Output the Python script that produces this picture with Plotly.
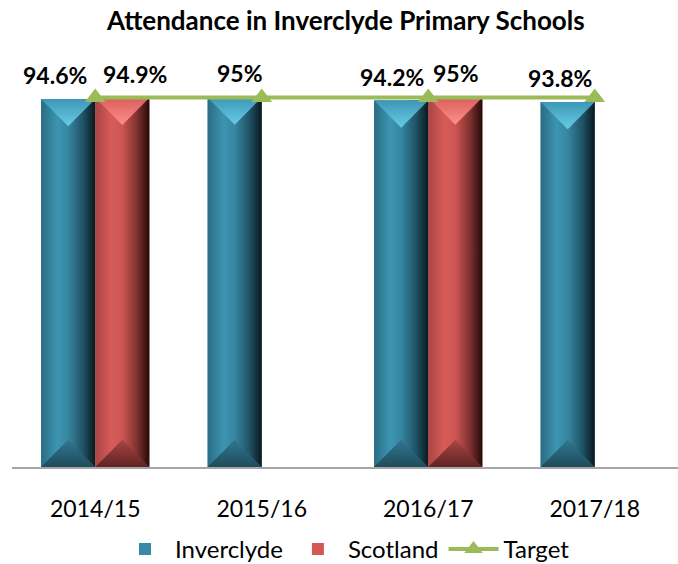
import plotly.graph_objects as go

# Data
categories = ["2014/15", "2015/16", "2016/17", "2017/18"]
inverclyde = [94.6, 95.0, 94.2, 93.8]
scotland = [94.9, None, 95.0, None]
target = [95, 95, 95, 95]

FONT = "Lato, 'Open Sans', sans-serif"
BAR_W = 0.325
BEVEL = 7.0  # depth of the top/bottom bevel, in axis units

teal = dict(base="#3789a5",
            body=[[0, "#2a6c83"], [0.3, "#3d95b1"], [0.5, "#3686a1"],
                  [0.78, "#1f5163"], [1, "#09191e"]],
            top=[[0, "#6acbe6"], [1, "#3c98b6"]],
            bottom=[[0, "#1f4b5a"], [1, "#2f7790"]])
red = dict(base="#d35856",
           body=[[0, "#a94543"], [0.3, "#d65c5a"], [0.5, "#cc5553"],
                 [0.78, "#7d302f"], [1, "#240a0a"]],
           top=[[0, "#ff8f8a"], [1, "#d85f5c"]],
           bottom=[[0, "#5e2322"], [1, "#a94544"]])

series = [("Inverclyde", inverclyde, -BAR_W / 2, teal),
          ("Scotland", scotland, BAR_W / 2, red)]

fig = go.Figure()

# Plain bars carrying the data and the legend entries
for name, vals, off, pal in series:
    xs = [i + off for i, v in enumerate(vals) if v is not None]
    ys = [v for v in vals if v is not None]
    fig.add_trace(go.Bar(x=xs, y=ys, width=BAR_W, name=name,
                         marker=dict(color=pal["base"], line=dict(width=0)),
                         hoverinfo="skip"))

# Cylinder-style shading drawn over each bar
for name, vals, off, pal in series:
    for i, v in enumerate(vals):
        if v is None:
            continue
        x0, x1 = i + off - BAR_W / 2, i + off + BAR_W / 2
        xc = i + off
        fig.add_trace(go.Scatter(
            x=[x0, x1, x1, x0, x0], y=[0, 0, v, v, 0], mode="lines",
            fill="toself", line=dict(width=0), showlegend=False, hoverinfo="skip",
            fillgradient=dict(type="horizontal", colorscale=pal["body"])))
        fig.add_trace(go.Scatter(
            x=[x0, x1, xc, x0], y=[v, v, v - BEVEL, v], mode="lines",
            fill="toself", line=dict(width=0), showlegend=False, hoverinfo="skip",
            fillgradient=dict(type="vertical", colorscale=pal["top"])))
        fig.add_trace(go.Scatter(
            x=[x0, x1, xc, x0], y=[0, 0, BEVEL, 0], mode="lines",
            fill="toself", line=dict(width=0), showlegend=False, hoverinfo="skip",
            fillgradient=dict(type="vertical", colorscale=pal["bottom"])))

# Target line
fig.add_trace(go.Scatter(
    x=list(range(len(categories))), y=target, name="Target",
    mode="lines+markers", line=dict(color="#9bbb59", width=4),
    marker=dict(symbol="triangle-up", size=18, color="#9bbb59"),
    hoverinfo="skip"))

# Value labels
nudges = {"Inverclyde": [-13, 5, -9, -8], "Scotland": [13, 0, 1, 0]}
for name, vals, off, pal in series:
    for i, v in enumerate(vals):
        if v is None:
            continue
        fig.add_annotation(x=i + off, y=v, text=f"{v:g}%", showarrow=False,
                           yanchor="bottom", yshift=8, xshift=nudges[name][i],
                           font=dict(family=FONT, size=23, color="#000000",
                                     weight="bold"))

fig.update_layout(
    width=678, height=564,
    margin=dict(l=12, r=0, t=78, b=97, autoexpand=False),
    paper_bgcolor="white", plot_bgcolor="white",
    barmode="overlay",
    title=dict(text="<b>Attendance in Inverclyde Primary Schools</b>",
               x=0.51, xanchor="center", y=0.963, yanchor="middle",
               font=dict(family=FONT, size=26, color="#000000")),
    xaxis=dict(range=[-0.5, 3.5], tickvals=list(range(len(categories))),
               ticktext=categories, showgrid=False, zeroline=False,
               showline=True, linecolor="#a6a6a6", linewidth=2, ticks="",
               ticklabelstandoff=20,
               tickfont=dict(family=FONT, size=23, color="#000000")),
    yaxis=dict(range=[0, 100], visible=False),
    legend=dict(orientation="h", x=0.5, xanchor="center",
                yref="container", y=0.026, yanchor="middle",
                font=dict(family=FONT, size=24, color="#000000"),
                itemwidth=50, traceorder="normal"),
    showlegend=True,
)

fig.write_html("out.html")
